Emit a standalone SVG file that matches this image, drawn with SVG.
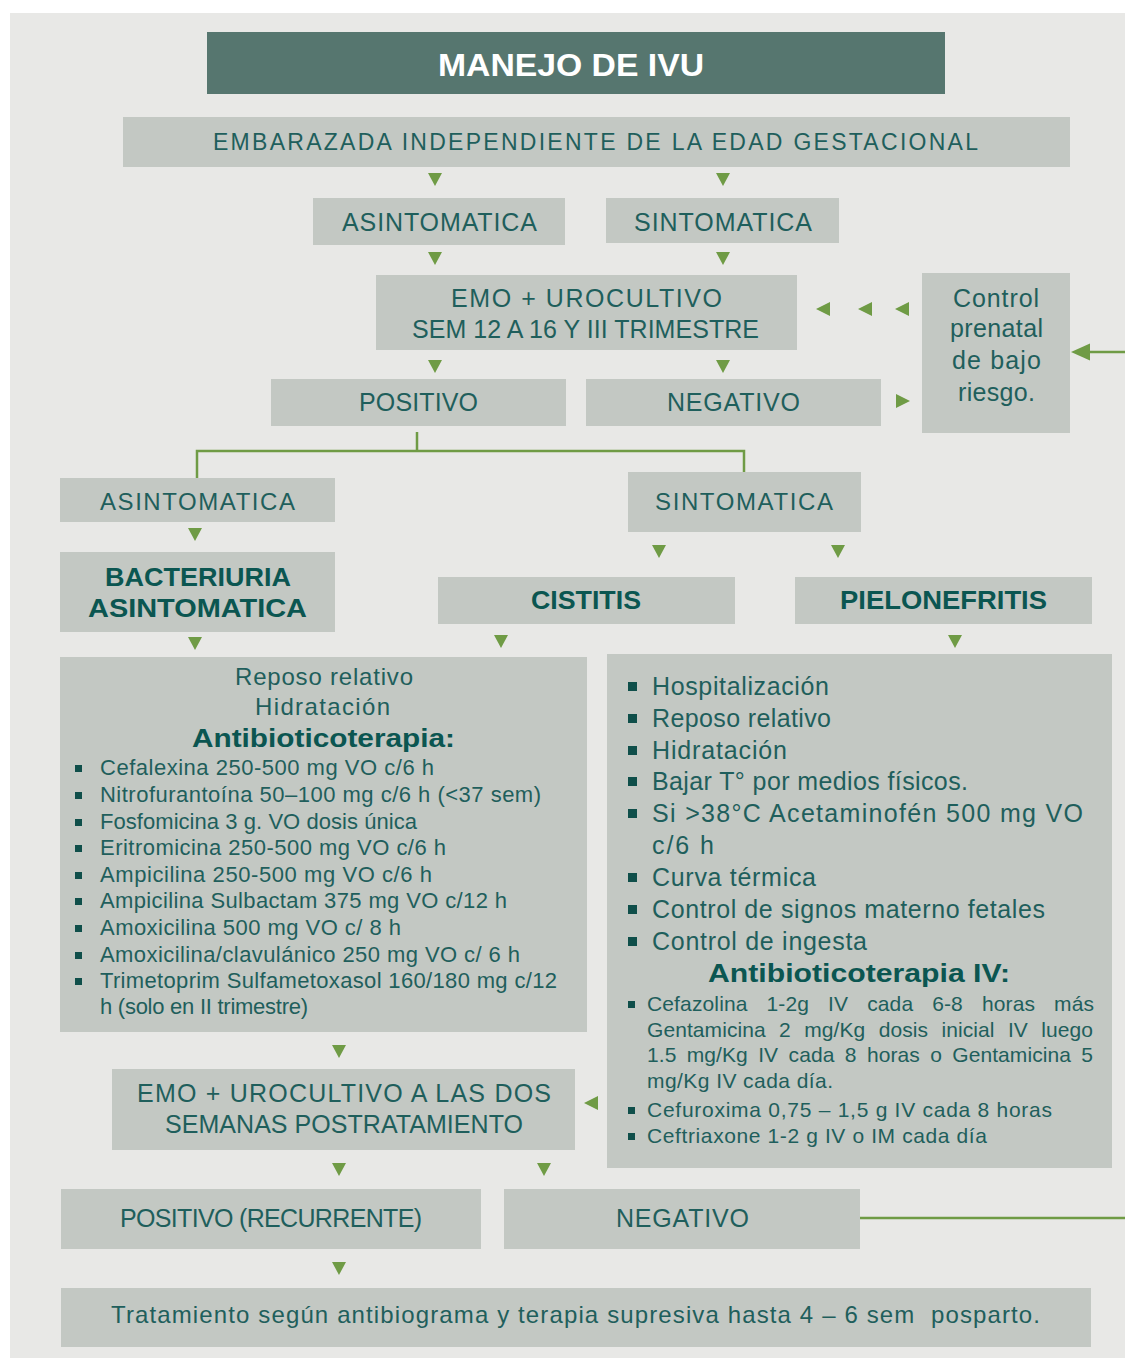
<svg xmlns="http://www.w3.org/2000/svg" width="1125" height="1358" viewBox="0 0 1125 1358">
<style>
.bg{fill:#e8e8e6}
.box{fill:#c3c8c3}
.ttl{fill:#56766f}
text{font-family:"Liberation Sans",Arial,sans-serif;fill:#1f5f5c;font-size:25px}
.b{font-weight:bold;fill:#0b5651}
.w{fill:#ffffff;font-weight:bold;font-size:31px}
.s21{font-size:21px}
.s22{font-size:22px}
.s23{font-size:23px}
.s24{font-size:24px}
.s26{font-size:26px}
.ar{fill:#6f9b45}
.ln{fill:none;stroke:#6f9b45;stroke-width:2.5}
.bu{fill:#0f4f4a}
</style>
<defs>
<path id="ad" d="M-7,0 L7,0 L0,13 Z"/>
<path id="al" d="M0,0 L14,-7 L14,7 Z"/>
<path id="arr" d="M0,0 L-14,-7 L-14,7 Z"/>
<path id="alb" d="M0,0 L19,-8.5 L19,8.5 Z"/>
</defs>
<rect class="bg" x="10" y="13" width="1115" height="1345"/>

<g id="connectors">
<polyline class="ln" points="417,432 417,451"/>
<polyline class="ln" points="197,478 197,451 744,451 744,472"/>
<line class="ln" x1="1088" y1="352" x2="1125" y2="352"/>
<line class="ln" x1="860" y1="1218" x2="1125" y2="1218"/>
<use href="#alb" class="ar" x="1071" y="352"/>
<use href="#ad" class="ar" x="435" y="173"/>
<use href="#ad" class="ar" x="723" y="173"/>
<use href="#ad" class="ar" x="435" y="252"/>
<use href="#ad" class="ar" x="723" y="252"/>
<use href="#ad" class="ar" x="435" y="360"/>
<use href="#ad" class="ar" x="723" y="360"/>
<use href="#al" class="ar" x="816" y="309"/>
<use href="#al" class="ar" x="858" y="309"/>
<use href="#al" class="ar" x="895" y="309"/>
<use href="#arr" class="ar" x="910" y="401"/>
<use href="#ad" class="ar" x="195" y="528"/>
<use href="#ad" class="ar" x="659" y="545"/>
<use href="#ad" class="ar" x="838" y="545"/>
<use href="#ad" class="ar" x="195" y="637"/>
<use href="#ad" class="ar" x="501" y="635"/>
<use href="#ad" class="ar" x="955" y="635"/>
<use href="#ad" class="ar" x="339" y="1045"/>
<use href="#al" class="ar" x="584" y="1103"/>
<use href="#ad" class="ar" x="339" y="1163"/>
<use href="#ad" class="ar" x="544" y="1163"/>
<use href="#ad" class="ar" x="339" y="1262"/>
</g>

<g id="title">
<rect class="ttl" x="207" y="32" width="738" height="62"/>
<text class="w" x="438" y="76" textLength="266" lengthAdjust="spacingAndGlyphs">MANEJO DE IVU</text>
</g>
<g id="embarazada">
<rect class="box" x="123" y="117" width="947" height="50"/>
<text class="s23" x="213" y="150" textLength="765">EMBARAZADA INDEPENDIENTE DE LA EDAD GESTACIONAL</text>
</g>
<g id="asintomatica1">
<rect class="box" x="313" y="198" width="252" height="47"/>
<text x="342" y="231" textLength="195">ASINTOMATICA</text>
</g>
<g id="sintomatica1">
<rect class="box" x="606" y="198" width="233" height="45"/>
<text x="634" y="231" textLength="178">SINTOMATICA</text>
</g>
<g id="emo1">
<rect class="box" x="376" y="275" width="421" height="75"/>
<text x="451" y="307" textLength="271">EMO + UROCULTIVO</text>
<text x="412" y="338" textLength="347">SEM 12 A 16 Y III TRIMESTRE</text>
</g>
<g id="control">
<rect class="box" x="922" y="273" width="148" height="160"/>
<text x="953" y="307" textLength="86">Control</text>
<text x="950" y="337" textLength="93">prenatal</text>
<text x="952" y="369" textLength="89">de bajo</text>
<text x="958" y="401" textLength="77">riesgo.</text>
</g>
<g id="positivo1">
<rect class="box" x="271" y="379" width="295" height="47"/>
<text x="359" y="411" textLength="119">POSITIVO</text>
</g>
<g id="negativo1">
<rect class="box" x="586" y="379" width="295" height="47"/>
<text x="667" y="411" textLength="133">NEGATIVO</text>
</g>
<g id="asintomatica2">
<rect class="box" x="60" y="478" width="275" height="44"/>
<text class="s24" x="100" y="510" textLength="195">ASINTOMATICA</text>
</g>
<g id="sintomatica2">
<rect class="box" x="628" y="472" width="233" height="60"/>
<text class="s24" x="655" y="510" textLength="178">SINTOMATICA</text>
</g>
<g id="bacteriuria">
<rect class="box" x="60" y="552" width="275" height="80"/>
<text class="b s26" x="105" y="586" textLength="186" lengthAdjust="spacingAndGlyphs">BACTERIURIA</text>
<text class="b s26" x="88" y="617" textLength="219" lengthAdjust="spacingAndGlyphs">ASINTOMATICA</text>
</g>
<g id="cistitis">
<rect class="box" x="438" y="577" width="297" height="47"/>
<text class="b s26" x="531" y="609" textLength="110" lengthAdjust="spacingAndGlyphs">CISTITIS</text>
</g>
<g id="pielonefritis">
<rect class="box" x="795" y="577" width="297" height="47"/>
<text class="b s26" x="840" y="609" textLength="207" lengthAdjust="spacingAndGlyphs">PIELONEFRITIS</text>
</g>
<g id="tratamiento-cistitis">
<rect class="box" x="60" y="657" width="527" height="375"/>
<text class="s24" x="235" y="685" textLength="178">Reposo relativo</text>
<text class="s24" x="255" y="715" textLength="135">Hidratación</text>
<text class="b s26" x="192" y="747" textLength="263" lengthAdjust="spacingAndGlyphs">Antibioticoterapia:</text>
<rect class="bu" x="75" y="765" width="7" height="7"/>
<rect class="bu" x="75" y="792" width="7" height="7"/>
<rect class="bu" x="75" y="819" width="7" height="7"/>
<rect class="bu" x="75" y="845" width="7" height="7"/>
<rect class="bu" x="75" y="872" width="7" height="7"/>
<rect class="bu" x="75" y="898" width="7" height="7"/>
<rect class="bu" x="75" y="925" width="7" height="7"/>
<rect class="bu" x="75" y="952" width="7" height="7"/>
<rect class="bu" x="75" y="978" width="7" height="7"/>
<text class="s22" x="100" y="775" textLength="334">Cefalexina 250-500 mg VO c/6 h</text>
<text class="s22" x="100" y="802" textLength="441">Nitrofurantoína 50–100 mg c/6 h (&lt;37 sem)</text>
<text class="s22" x="100" y="829" textLength="317">Fosfomicina 3 g. VO dosis única</text>
<text class="s22" x="100" y="855" textLength="346">Eritromicina 250-500 mg VO c/6 h</text>
<text class="s22" x="100" y="882" textLength="332">Ampicilina 250-500 mg VO c/6 h</text>
<text class="s22" x="100" y="908" textLength="407">Ampicilina Sulbactam 375 mg VO c/12 h</text>
<text class="s22" x="100" y="935" textLength="301">Amoxicilina 500 mg VO c/ 8 h</text>
<text class="s22" x="100" y="962" textLength="420">Amoxicilina/clavulánico 250 mg VO c/ 6 h</text>
<text class="s22" x="100" y="988" textLength="457">Trimetoprim Sulfametoxasol 160/180 mg c/12</text>
<text class="s22" x="100" y="1014" textLength="208">h (solo en II trimestre)</text>
</g>
<g id="tratamiento-pielonefritis">
<rect class="box" x="607" y="654" width="505" height="514"/>
<rect class="bu" x="628" y="682" width="9" height="9"/>
<rect class="bu" x="628" y="714" width="9" height="9"/>
<rect class="bu" x="628" y="746" width="9" height="9"/>
<rect class="bu" x="628" y="777" width="9" height="9"/>
<rect class="bu" x="628" y="809" width="9" height="9"/>
<rect class="bu" x="628" y="873" width="9" height="9"/>
<rect class="bu" x="628" y="905" width="9" height="9"/>
<rect class="bu" x="628" y="937" width="9" height="9"/>
<text x="652" y="695" textLength="177">Hospitalización</text>
<text x="652" y="727" textLength="179">Reposo relativo</text>
<text x="652" y="759" textLength="135">Hidratación</text>
<text x="652" y="790" textLength="316">Bajar T° por medios físicos.</text>
<text x="652" y="822" textLength="431">Si &gt;38°C Acetaminofén 500 mg VO</text>
<text x="652" y="854" textLength="62">c/6 h</text>
<text x="652" y="886" textLength="164">Curva térmica</text>
<text x="652" y="918" textLength="393">Control de signos materno fetales</text>
<text x="652" y="950" textLength="215">Control de ingesta</text>
<text class="b s26" x="708" y="982" textLength="302" lengthAdjust="spacingAndGlyphs">Antibioticoterapia IV:</text>
<rect class="bu" x="628" y="1001" width="7" height="7"/>
<rect class="bu" x="628" y="1107" width="7" height="7"/>
<rect class="bu" x="628" y="1133" width="7" height="7"/>
<text class="s21" x="647" y="1011" word-spacing="13" textLength="447">Cefazolina 1-2g IV cada 6-8 horas más</text>
<text class="s21" x="647" y="1037" word-spacing="7.5" textLength="446">Gentamicina 2 mg/Kg dosis inicial IV luego</text>
<text class="s21" x="647" y="1062" word-spacing="4.5" textLength="446">1.5 mg/Kg IV cada 8 horas o Gentamicina 5</text>
<text class="s21" x="647" y="1088" textLength="186">mg/Kg IV cada día.</text>
<text class="s21" x="647" y="1117" textLength="405">Cefuroxima 0,75 – 1,5 g IV cada 8 horas</text>
<text class="s21" x="647" y="1143" textLength="340">Ceftriaxone 1-2 g IV o IM cada día</text>
</g>
<g id="emo2">
<rect class="box" x="112" y="1069" width="463" height="81"/>
<text x="137" y="1102" textLength="414">EMO + UROCULTIVO A LAS DOS</text>
<text x="165" y="1133" textLength="358">SEMANAS POSTRATAMIENTO</text>
</g>
<g id="positivo-recurrente">
<rect class="box" x="61" y="1189" width="420" height="60"/>
<text x="120" y="1227" textLength="302">POSITIVO (RECURRENTE)</text>
</g>
<g id="negativo2">
<rect class="box" x="504" y="1189" width="356" height="60"/>
<text x="616" y="1227" textLength="133">NEGATIVO</text>
</g>
<g id="tratamiento-final">
<rect class="box" x="61" y="1288" width="1030" height="59"/>
<text class="s24" x="111" y="1323" textLength="929" xml:space="preserve">Tratamiento según antibiograma y terapia supresiva hasta 4 – 6 sem  posparto.</text>
</g>
</svg>
